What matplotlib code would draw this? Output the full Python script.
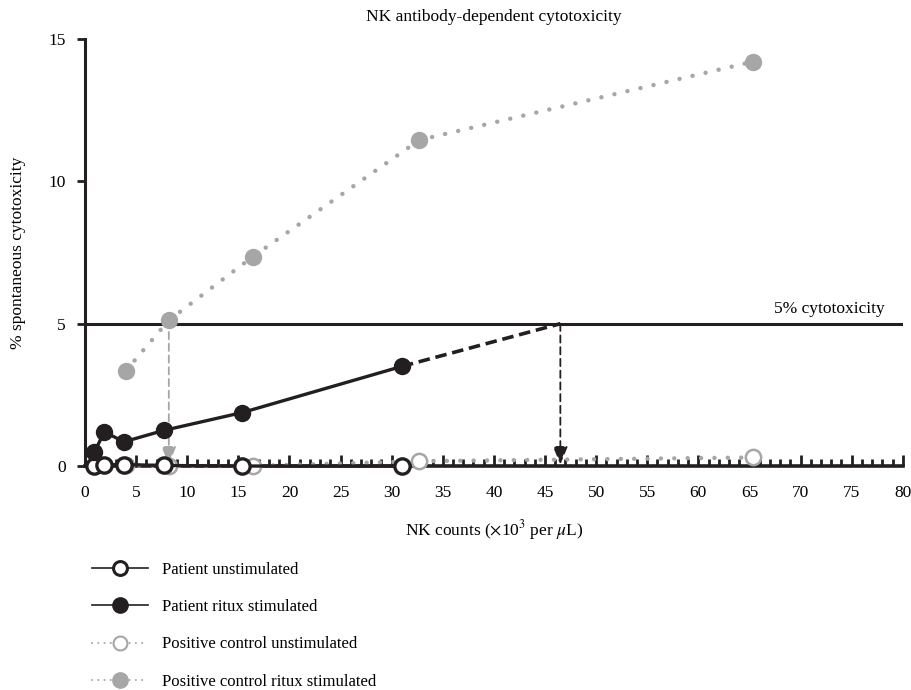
import matplotlib.pyplot as plt
from matplotlib.lines import Line2D
from matplotlib.ticker import MultipleLocator

plt.rcParams['font.family'] = ['Liberation Serif', 'DejaVu Serif']
plt.rcParams['mathtext.fontset'] = 'stix'

# NK counts (x10^3 per uL) and % spontaneous cytotoxicity
pat_x = [0.9, 1.9, 3.8, 7.7, 15.4, 31.0]
pat_unstim = [0.0, 0.05, 0.05, 0.02, 0.0, 0.0]
pat_ritux = [0.48, 1.2, 0.85, 1.25, 1.88, 3.5]

ctrl_x = [4.0, 8.2, 16.4, 32.7, 65.3]
ctrl_unstim = [0.02, 0.0, 0.0, 0.17, 0.3]
ctrl_ritux = [3.35, 5.12, 7.35, 11.45, 14.2]

threshold = 5
pat_cross = 46.5     # extrapolated NK count where patient reaches 5%
ctrl_cross = 8.2
arrow_end = 0.05

grey = '#a6a6a6'
black = '#231f20'
dots = (0, (0.01, 3.0))

fig = plt.figure(figsize=(9.11, 6.9), dpi=100)
ax = fig.add_axes([0.0933, 0.3246, 0.8977, 0.6189])

ax.axhline(threshold, color=black, lw=2.2, zorder=1)
ax.text(78.2, threshold + 0.25, '5% cytotoxicity', ha='right', va='bottom', fontsize=12.5)

# dashed extrapolation and arrows
ax.plot([pat_x[-1], pat_cross], [pat_ritux[-1], threshold], color=black,
        lw=2.6, ls=(0, (3.2, 1.6)), zorder=2)
head = '-|>,head_length=1.1,head_width=0.45'
ax.annotate('', xy=(pat_cross, arrow_end), xytext=(pat_cross, threshold),
            arrowprops=dict(arrowstyle=head, color=black,
                            lw=1.3, ls=(0, (4, 2.5)), shrinkA=0, shrinkB=0), zorder=3)
ax.annotate('', xy=(ctrl_cross, arrow_end), xytext=(ctrl_cross, ctrl_ritux[1]),
            arrowprops=dict(arrowstyle=head, color=grey,
                            lw=1.3, ls=(0, (4, 2.5)), shrinkA=0, shrinkB=0), zorder=3)

ax.plot(ctrl_x, ctrl_ritux, color=grey, lw=3.2, ls=dots, dash_capstyle='round',
        marker='o', ms=11.5, mfc=grey, mec=grey, zorder=4, clip_on=False)
ax.plot(ctrl_x, ctrl_unstim, color=grey, lw=3.2, ls=dots, dash_capstyle='round',
        marker='o', ms=11, mfc='white', mec=grey, mew=1.8, zorder=5, clip_on=False)
ax.plot(pat_x, pat_unstim, color=black, lw=2.4,
        marker='o', ms=11, mfc='white', mec=black, mew=2.4, zorder=6, clip_on=False)
ax.plot(pat_x, pat_ritux, color=black, lw=2.4,
        marker='o', ms=11.5, mfc=black, mec=black, zorder=7, clip_on=False)

ax.set_xlim(0, 80)
ax.set_ylim(0, 15)
for s in ['top', 'right']:
    ax.spines[s].set_visible(False)
ax.spines['left'].set_linewidth(2.2)
ax.spines['bottom'].set_linewidth(2.6)
ax.spines['left'].set_color(black)
ax.spines['bottom'].set_color(black)

ax.xaxis.set_major_locator(MultipleLocator(5))
ax.xaxis.set_minor_locator(MultipleLocator(1))
ax.set_yticks([0, 5, 10, 15])
ax.tick_params(axis='x', which='major', direction='in', length=8, width=2, pad=14,
               labelsize=12.5, color=black)
ax.tick_params(axis='x', which='minor', direction='in', length=5, width=2, color=black)
ax.tick_params(axis='y', direction='out', length=6, width=2, pad=8, labelsize=12.5,
               color=black)

ax.set_xlabel(r'NK counts ($\times$10$^{3}$ per $\mu$L)', fontsize=12.5, labelpad=12)
ax.set_ylabel('% spontaneous cytotoxicity', fontsize=12.5, labelpad=16)
ax.set_title('NK antibody-dependent cytotoxicity', fontsize=12.5, pad=13)

handles = [
    Line2D([], [], color=black, lw=1.2, marker='o', ms=10, mfc='white', mec=black, mew=2.2),
    Line2D([], [], color=black, lw=1.2, marker='o', ms=11, mfc=black, mec=black),
    Line2D([], [], color=grey, lw=1.5, ls=(0, (0.01, 3)), dash_capstyle='round',
           marker='o', ms=10, mfc='white', mec=grey, mew=1.5),
    Line2D([], [], color=grey, lw=1.5, ls=(0, (0.01, 3)), dash_capstyle='round',
           marker='o', ms=11, mfc=grey, mec=grey),
]
labels = ['Patient unstimulated', 'Patient ritux stimulated',
          'Positive control unstimulated', 'Positive control ritux stimulated']
fig.legend(handles, labels, loc='upper left', bbox_to_anchor=(0.094, 0.195), frameon=False,
           fontsize=12, handlelength=3.35, handletextpad=0.85, labelspacing=1.27,
           borderaxespad=0)

fig.savefig('out.png', dpi=100)
